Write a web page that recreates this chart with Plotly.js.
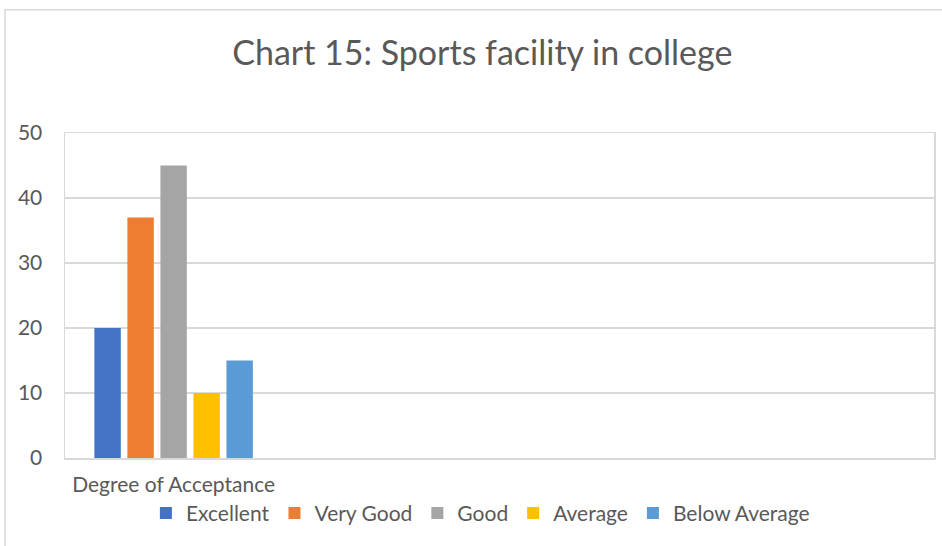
<!DOCTYPE html>
<html>
<head>
<meta charset="utf-8">
<script src="https://cdn.plot.ly/plotly-3.0.1.min.js"></script>
<style>html,body{margin:0;padding:0;background:#fff;}#chart{width:942px;height:546px;}</style>
</head>
<body>
<div id="chart"></div>
<script>
const categories = ["Degree of Acceptance"];
const seriesNames = ["Excellent", "Very Good", "Good", "Average", "Below Average"];
const seriesValues = [20, 37, 45, 10, 15];
const seriesColors = ["#4472C4", "#ED7D31", "#A5A5A5", "#FFC000", "#5B9BD5"];
const yTicks = [0, 10, 20, 30, 40, 50];

const FONT = "Lato, 'Open Sans', sans-serif";
const TXT = "#595959";

const traces = seriesNames.map((name, i) => ({
  type: "bar",
  name: name,
  x: categories,
  y: [seriesValues[i]],
  marker: { color: seriesColors[i] },
  hoverinfo: "y+name"
}));

const layout = {
  width: 942, height: 546,
  margin: { l: 65, r: 8, t: 133, b: 88 },
  paper_bgcolor: "#fff", plot_bgcolor: "#fff",
  font: { family: FONT, color: TXT, size: 21 },
  title: { text: "Chart 15: Sports facility in college", font: { family: FONT, size: 34, color: TXT }, x: 0.512, xanchor: "center", y: 0.902, yanchor: "middle", yref: "container" },
  barmode: "group",
  bargap: 0.24,
  bargroupgap: 0.2,
  xaxis: {
    type: "category",
    range: [-0.5, 3.5],
    showgrid: false,
    showline: true, mirror: true, linecolor: "#d9d9d9", linewidth: 1.5,
    ticks: "outside", ticklen: 7, tickcolor: "rgba(0,0,0,0)",
    tickfont: { family: FONT, size: 21, color: TXT },
    fixedrange: true
  },
  yaxis: {
    range: [0, 50],
    tickvals: yTicks,
    showgrid: true, gridcolor: "#d9d9d9", gridwidth: 1.5,
    showline: true, mirror: true, linecolor: "#d9d9d9", linewidth: 1.5,
    zeroline: false,
    ticks: "outside", ticklen: 17, tickcolor: "rgba(0,0,0,0)",
    tickfont: { family: FONT, size: 21, color: TXT },
    fixedrange: true
  },
  legend: {
    orientation: "h",
    x: 0.478, xanchor: "center",
    y: -0.17, yanchor: "middle",
    bgcolor: "rgba(0,0,0,0)",
    font: { family: FONT, size: 21, color: TXT },
    itemwidth: 30,
    tracegroupgap: 0,
    traceorder: "normal"
  },
  shapes: [{
    type: "rect", xref: "paper", yref: "paper",
    x0: -0.069, x1: 1.2, y0: -0.6, y1: 1.379,
    line: { color: "#d9d9d9", width: 1.5 }, fillcolor: "rgba(0,0,0,0)", layer: "below"
  }],
  showlegend: true
};

Plotly.newPlot("chart", traces, layout, { displayModeBar: false, staticPlot: true });
</script>
</body>
</html>
